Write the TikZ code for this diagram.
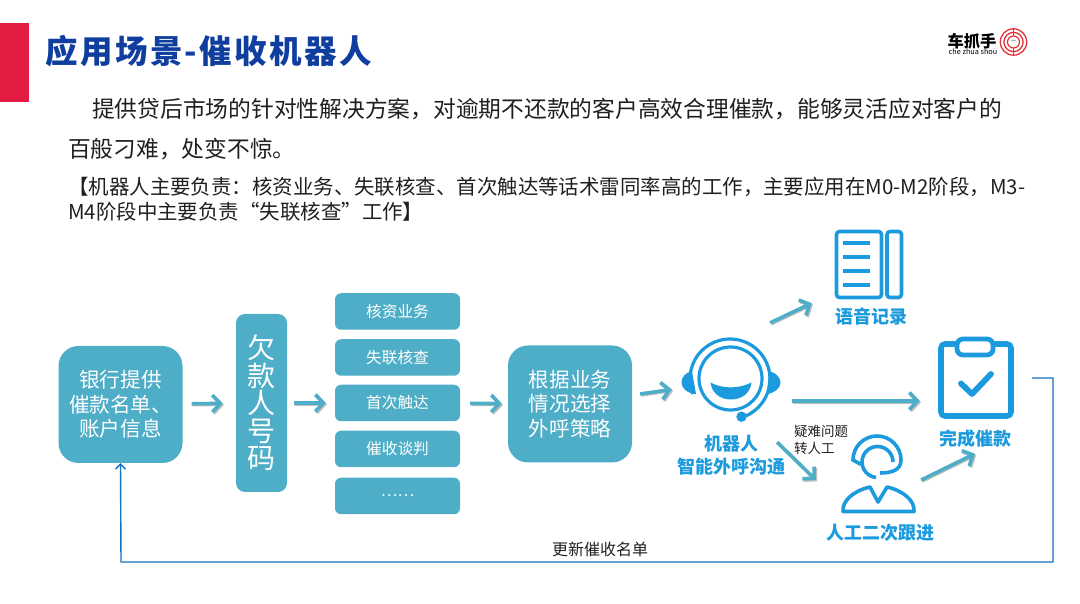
\documentclass[tikz,border=0pt]{standalone}
\usepackage{fontspec}
\setmainfont{Noto Sans CJK SC}
\usetikzlibrary{arrows.meta, calc, positioning}
\definecolor{cteal}{HTML}{4EADC7}
\definecolor{cicon}{HTML}{1B9ADD}
\definecolor{ctitle}{HTML}{0F3E9E}
\definecolor{cred}{HTML}{E31C43}
\definecolor{cback}{HTML}{1470C4}
\definecolor{clogo}{HTML}{E0343A}
\newcommand{\fsz}[2]{\fontsize{#1}{#2}\selectfont}
\begin{document}
\begin{tikzpicture}[x=1pt, y=1pt,
  box/.style={fill=cteal, text=white, rounded corners=#1, align=center, inner sep=0pt},
  smallbox/.style={box=6pt, minimum width=125pt, minimum height=36.5pt, font=\fsz{15.7}{18}},
  bigbox/.style={box=20pt, minimum width=124pt, minimum height=117pt, font=\fsz{20.6}{24.3}},
  icon/.style={inner sep=0pt},
  iconlbl/.style={inner sep=0pt, align=center, text=cicon, font=\fsz{18}{22.5}\bfseries},
  txt/.style={anchor=west, inner sep=0pt, text=black!88},
  arr/.style={-{Straight Barb[length=8pt, width=17pt, line width=3.6pt]}, line width=3.6pt, cteal,
              preaction={draw=black!25, line width=2.6pt, transform canvas={shift={(1.2pt,-1.4pt)}}},
              shorten <=#1},
  arr/.default=9pt,
  ln/.style={cicon, line width=3.6pt},
  back/.style={-{Straight Barb[length=5pt, width=10pt]}, line width=1.4pt, cback}
]
\useasboundingbox (0,0) rectangle (1080,603);
\fill[cred] (0,501) rectangle (28.5,580);
\node[txt, text=ctitle, font=\fsz{32.5}{36}\bfseries\addfontfeature{LetterSpace=7.5}] (title) at (45,552) {应用场景-催收机器人};

\node[txt, font=\fsz{22.75}{27}] (intro) at (92,494) {提供贷后市场的针对性解决方案，对逾期不还款的客户高效合理催款，能够灵活应对客户的};
\node[txt, font=\fsz{22.75}{27}] (intrb) at (68,454) {百般刁难，处变不惊。};
\node[txt, font=\fsz{20.45}{24}] (notea) at (68,416) {【机器人主要负责：核资业务、失联核查、首次触达等话术雷同率高的工作，主要应用在M0-M2阶段，M3-};
\node[txt, font=\fsz{20.45}{24}] (noteb) at (68,391) {M4阶段中主要负责“失联核查”工作】};

\node[inner sep=0pt, font=\fsz{16.3}{18}\bfseries] (brand) at (972,562) {车抓手};
\node[inner sep=0pt, font=\fsz{7.3}{8}] (pinyin) at (973,551) {che zhua shou};
\node[icon, minimum size=28pt] (seal) at (1013.5,561) {};
\draw[clogo, line width=1.3pt] (seal) circle (13.2pt) (seal) circle (9.6pt);
\draw[clogo, line width=1.2pt] (seal) circle (6pt);
\draw[clogo, line width=1.2pt] ($(seal)+(0,-13)$) -- ($(seal)+(0,-6)$) ($(seal)+(0,6)$) -- ($(seal)+(0,13)$);
\fill[black!30] ($(seal)+(-3.5,0.5)$) .. controls ($(seal)+(0,3)$) .. ($(seal)+(3.5,0.5)$) -- cycle;

\node[bigbox] (bank) at (120.5,198.5) {银行提供\\催款名单、\\账户信息};
\node[box=9pt, minimum width=51pt, minimum height=178pt, font=\fsz{28}{27.5}] (debtor) at (261.5,200) {欠\\款\\人\\号\\码};
\node[smallbox] (verify) at (397.5,291.5) {核资业务};
\node[smallbox] (lost) at (397.5,245.5) {失联核查};
\node[smallbox] (touch) at (397.5,200) {首次触达};
\node[smallbox] (nego) at (397.5,154) {催收谈判};
\node[smallbox] (more) at (397.5,107) {……};
\node[bigbox] (plan) at (570,199) {根据业务\\情况选择\\外呼策略};

\node[icon, minimum width=100pt, minimum height=88pt] (robot) at (731,222) {};
\draw[ln, line width=3.2pt] (730.5,224.5) circle (31.5pt);
\draw[ln, line width=3.2pt] (692.9,209) arc[start angle=202, end angle=-55, radius=40pt]
  .. controls (750,189) and (748,187.5) .. (744,187);
\fill[cicon] (741.5,186.3) circle (5.2pt);
\fill[cicon] (692,231.5) .. controls (685,231) and (681.5,225) .. (681.5,220.5)
  .. controls (681.5,215) and (687,209.5) .. (696,209) -- cycle;
\fill[cicon] (769,231.5) .. controls (776,231) and (780.5,225) .. (780.5,220.5)
  .. controls (780.5,215) and (775,210) .. (767,209) -- cycle;
\fill[cicon] (710.5,220.5) .. controls (722,214) and (739,214) .. (751.5,220.5)
  .. controls (750,209) and (741,203.5) .. (731,203.5) .. controls (721,203.5) and (712,209) .. (710.5,220.5) -- cycle;
\node[iconlbl] (robotlbl) at (731,148) {机器人\\智能外呼沟通};

\node[icon, minimum width=68pt, minimum height=69pt] (record) at (869,338.5) {};
\draw[ln, rounded corners=3pt] (836.5,371.5) rectangle (881.5,305.5);
\draw[ln, rounded corners=3pt] (887,371.5) rectangle (901.5,305.5);
\foreach \yy in {360,346,332,318}
  \draw[ln, line width=3.4pt] (843,\yy) -- (870,\yy);
\node[iconlbl] (recordlbl) at (871,286) {语音记录};

\node[icon, minimum width=76pt, minimum height=81pt] (done) at (976,225) {};
\draw[ln, line width=5.6pt, rounded corners=4pt] (941,259) rectangle (1011,187);
\draw[ln, fill=white, line width=4.8pt, rounded corners=6pt] (957,264) rectangle (993,248);
\draw[ln, line width=5.8pt, line cap=round, line join=round] (961,219.5) -- (972,209) -- (991,229);
\node[iconlbl] (donelbl) at (975,164) {完成催款};

\node[icon, minimum width=74pt, minimum height=78pt] (human) at (878,127) {};
\draw[ln] (861,138.5) -- (853,143) arc[start angle=180, end angle=0, radius=24pt]
  .. controls (901,133) and (892,130) .. (880,130);
\draw[ln] (893,141) arc[start angle=0, end angle=265, radius=15.5pt];
\draw[ln, fill=white, line join=round] (870,116) -- (878,101) -- (887,116)
  .. controls (904,112) and (915,102) .. (914,91.5) -- (843,91.5)
  .. controls (842,102) and (853,112) .. (870,116) -- cycle;
\node[iconlbl] (humanlbl) at (880,70) {人工二次跟进};

\node[inner sep=0pt, align=left, font=\fsz{13.5}{17}, text=black!88] (hard) at (821,163) {疑难问题\\转人工};
\node[inner sep=0pt, font=\fsz{16}{18}, text=black!88] (update) at (600,54) {更新催收名单};

\coordinate (bendr) at (1053,41);
\coordinate (bendl) at (121,41);

\draw[arr, shorten >=13pt] (bank) -- (debtor);
\draw[arr=7pt, shorten >=9pt] (debtor) -- (touch);
\draw[arr=10pt, shorten >=6pt] (touch) -- (plan);
\draw[arr=8pt, shorten >=9pt] (plan) -- (robot);
\draw[arr=0pt] ([shift={(-11,14)}]robot.north east) -- ([shift={(-23,-4)}]record.south west);
\draw[arr=0pt] ([shift={(11,-20)}]robot.east) -- ([shift={(-18,-23)}]done.west);
\draw[arr=0pt] ([shift={(-4,-17)}]robot.south east) -- ([shift={(-25,-4)}]human.west);
\draw[arr=0pt] ([shift={(6,-4)}]human.east) -- ([shift={(-1,-35)}]done.south);
\draw[back] ([xshift=18pt]done.east) -- (bendr |- done.east) -- (bendr) -- (bendl) -- (bank.south);
\end{tikzpicture}
\end{document}
